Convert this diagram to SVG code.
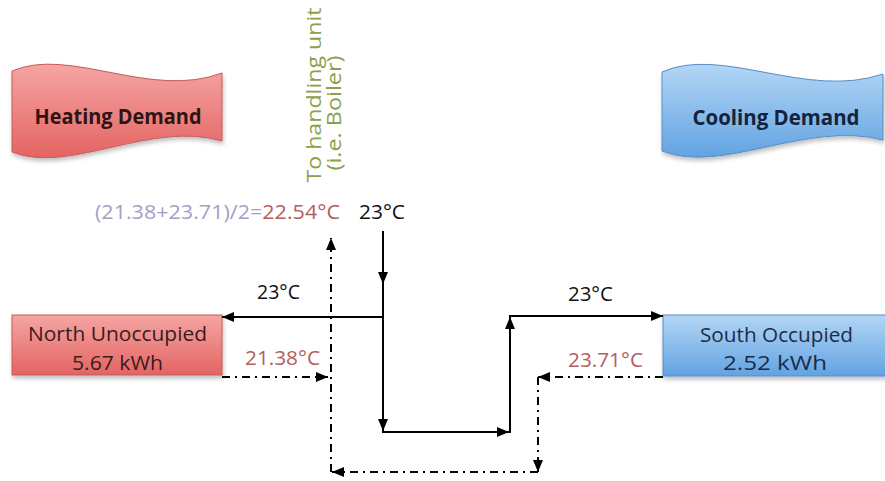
<svg xmlns="http://www.w3.org/2000/svg" width="885" height="481" viewBox="0 0 885 481">
<defs>
  <linearGradient id="gRed" x1="0" y1="0" x2="0" y2="1">
    <stop offset="0" stop-color="#f5a5a3"/>
    <stop offset="1" stop-color="#e36462"/>
  </linearGradient>
  <linearGradient id="gBlue" x1="0" y1="0" x2="0" y2="1">
    <stop offset="0" stop-color="#b3d6f5"/>
    <stop offset="1" stop-color="#62a3e2"/>
  </linearGradient>
  <filter id="sh" x="-10%" y="-10%" width="130%" height="140%">
    <feDropShadow dx="1" dy="3" stdDeviation="2" flood-color="#000" flood-opacity="0.25"/>
  </filter>
  <marker id="ah" viewBox="0 0 12 10" refX="12" refY="5" markerWidth="12" markerHeight="10" markerUnits="userSpaceOnUse" orient="auto">
    <path d="M0,0 L12,5 L0,10 Z" fill="#000"/>
  </marker>
</defs>
<style>
  .t { font-family: "Open Sans", "Liberation Sans", sans-serif; font-size: 20.5px; }
  .hd { font-family: "Open Sans", "Liberation Sans", sans-serif; font-size: 20.5px; font-weight: bold; text-anchor: middle; }
  .blk { fill: #111; }
  .red { fill: #b25e5c; }
  .gry { fill: #a3a0c4; }
  .grn { fill: #8aa04a; }
  .sol { fill: none; stroke: #000; stroke-width: 2; }
  .dd { fill: none; stroke: #000; stroke-width: 2; stroke-dasharray: 8 5 2 5; }
</style>

<g id="heating-demand">
  <path d="M12,71 C70,46 150,100 222,73 L222,141 C150,120 70,175 12,152 Z" fill="url(#gRed)" stroke="#c65a58" stroke-width="1" filter="url(#sh)"/>
  <text class="hd" x="118" y="124" fill="#2e1414" textLength="167" lengthAdjust="spacingAndGlyphs">Heating Demand</text>
</g>

<g id="cooling-demand">
  <path d="M662,72 C722,45 806,100 883,74 L883,140 C806,120 722,175 662,151 Z" fill="url(#gBlue)" stroke="#5a8cc6" stroke-width="1" filter="url(#sh)"/>
  <text class="hd" x="776" y="125" fill="#14233a" textLength="167" lengthAdjust="spacingAndGlyphs">Cooling Demand</text>
</g>

<g id="handling-unit-label">
  <text class="t grn" transform="translate(321,95) rotate(-90)" text-anchor="middle" textLength="175" lengthAdjust="spacingAndGlyphs">To handling unit</text>
  <text class="t grn" transform="translate(341,113) rotate(-90)" text-anchor="middle" textLength="115" lengthAdjust="spacingAndGlyphs">(i.e. Boiler)</text>
</g>

<g id="north-unoccupied">
  <rect x="12" y="315" width="210" height="60" fill="url(#gRed)" stroke="#c65a58" stroke-width="1" filter="url(#sh)"/>
  <text class="t" x="117.5" y="341" text-anchor="middle" fill="#3a1c1c" textLength="179" lengthAdjust="spacingAndGlyphs">North Unoccupied</text>
  <text class="t" x="117.5" y="370" text-anchor="middle" fill="#3a1c1c" textLength="91" lengthAdjust="spacingAndGlyphs">5.67 kWh</text>
</g>

<g id="south-occupied">
  <rect x="663" y="315" width="224" height="61" fill="url(#gBlue)" stroke="#5a8cc6" stroke-width="1" filter="url(#sh)"/>
  <text class="t" x="776.5" y="342" text-anchor="middle" fill="#1c2b48" textLength="153" lengthAdjust="spacingAndGlyphs">South Occupied</text>
  <text class="t" x="775" y="370" text-anchor="middle" fill="#1c2b48" textLength="104" lengthAdjust="spacingAndGlyphs">2.52 kWh</text>
</g>

<g id="labels">
  <text class="t" x="95" y="219" textLength="245" lengthAdjust="spacingAndGlyphs"><tspan class="gry">(21.38+23.71)/2=</tspan><tspan class="red">22.54°C</tspan></text>
  <text class="t blk" x="382" y="219" text-anchor="middle" textLength="46" lengthAdjust="spacingAndGlyphs">23°C</text>
  <text class="t blk" x="278.5" y="299" text-anchor="middle" textLength="43" lengthAdjust="spacingAndGlyphs">23°C</text>
  <text class="t blk" x="590.5" y="301" text-anchor="middle" textLength="45" lengthAdjust="spacingAndGlyphs">23°C</text>
  <text class="t red" x="282.5" y="365" text-anchor="middle" textLength="75" lengthAdjust="spacingAndGlyphs">21.38°C</text>
  <text class="t red" x="605.5" y="367" text-anchor="middle" textLength="75" lengthAdjust="spacingAndGlyphs">23.71°C</text>
</g>

<g id="connectors">
  <path class="sol" d="M383,231 L383,284" marker-end="url(#ah)"/>
  <path class="sol" d="M383,283 L383,431" marker-end="url(#ah)"/>
  <path class="sol" d="M384,317 L222,317" marker-end="url(#ah)"/>
  <path class="sol" d="M382,432 L509,432" marker-end="url(#ah)"/>
  <path class="sol" d="M510,433 L510,317" marker-end="url(#ah)"/>
  <path class="sol" d="M509,316 L663,316" marker-end="url(#ah)"/>
  <path class="dd" d="M222,377 L328,377" marker-end="url(#ah)"/>
  <path class="dd" d="M663,377 L538,377" marker-end="url(#ah)"/>
  <path class="dd" d="M538,377 L538,472" marker-end="url(#ah)"/>
  <path class="dd" d="M538,472 L332,472" marker-end="url(#ah)"/>
  <path class="dd" d="M331,472 L331,238" marker-end="url(#ah)"/>
</g>
</svg>
